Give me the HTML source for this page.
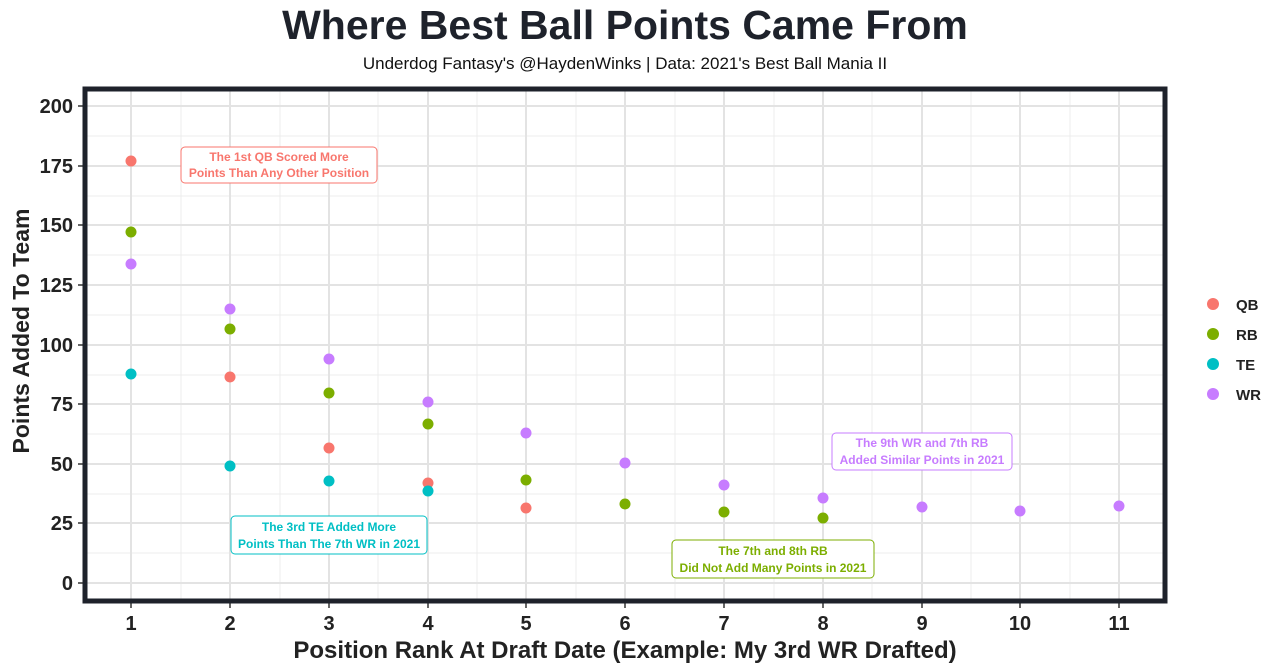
<!DOCTYPE html>
<html><head><meta charset="utf-8"><style>
body{margin:0;background:#fff;}
svg{display:block;font-family:"Liberation Sans",sans-serif;}
</style></head><body>
<svg width="1280" height="672" viewBox="0 0 1280 672">
<rect width="1280" height="672" fill="#fff"/>
<text x="625" y="39" text-anchor="middle" font-size="41" font-weight="bold" fill="#1e222b">Where Best Ball Points Came From</text>
<text x="625" y="69" text-anchor="middle" font-size="17" fill="#111">Underdog Fantasy's @HaydenWinks | Data: 2021's Best Ball Mania II</text>
<g stroke="#ececec" stroke-width="1">
<line x1="85" x2="1165" y1="553" y2="553"/><line x1="85" x2="1165" y1="494" y2="494"/><line x1="85" x2="1165" y1="434" y2="434"/><line x1="85" x2="1165" y1="375" y2="375"/><line x1="85" x2="1165" y1="315" y2="315"/><line x1="85" x2="1165" y1="255" y2="255"/><line x1="85" x2="1165" y1="196" y2="196"/><line x1="85" x2="1165" y1="136" y2="136"/>
<line x1="181" x2="181" y1="89" y2="601"/><line x1="280" x2="280" y1="89" y2="601"/><line x1="378" x2="378" y1="89" y2="601"/><line x1="477" x2="477" y1="89" y2="601"/><line x1="576" x2="576" y1="89" y2="601"/><line x1="675" x2="675" y1="89" y2="601"/><line x1="774" x2="774" y1="89" y2="601"/><line x1="872" x2="872" y1="89" y2="601"/><line x1="971" x2="971" y1="89" y2="601"/><line x1="1070" x2="1070" y1="89" y2="601"/>
</g>
<g stroke="#e3e3e3" stroke-width="2">
<line x1="85" x2="1165" y1="583" y2="583"/><line x1="85" x2="1165" y1="523" y2="523"/><line x1="85" x2="1165" y1="464" y2="464"/><line x1="85" x2="1165" y1="404" y2="404"/><line x1="85" x2="1165" y1="345" y2="345"/><line x1="85" x2="1165" y1="285" y2="285"/><line x1="85" x2="1165" y1="225" y2="225"/><line x1="85" x2="1165" y1="166" y2="166"/><line x1="85" x2="1165" y1="106" y2="106"/>
<line x1="131" x2="131" y1="89" y2="601"/><line x1="230" x2="230" y1="89" y2="601"/><line x1="329" x2="329" y1="89" y2="601"/><line x1="428" x2="428" y1="89" y2="601"/><line x1="526" x2="526" y1="89" y2="601"/><line x1="625" x2="625" y1="89" y2="601"/><line x1="724" x2="724" y1="89" y2="601"/><line x1="823" x2="823" y1="89" y2="601"/><line x1="922" x2="922" y1="89" y2="601"/><line x1="1020" x2="1020" y1="89" y2="601"/><line x1="1119" x2="1119" y1="89" y2="601"/>
</g>
<g stroke="#333" stroke-width="1.5">
<line x1="78" x2="83" y1="583" y2="583"/><line x1="78" x2="83" y1="523" y2="523"/><line x1="78" x2="83" y1="464" y2="464"/><line x1="78" x2="83" y1="404" y2="404"/><line x1="78" x2="83" y1="345" y2="345"/><line x1="78" x2="83" y1="285" y2="285"/><line x1="78" x2="83" y1="225" y2="225"/><line x1="78" x2="83" y1="166" y2="166"/><line x1="78" x2="83" y1="106" y2="106"/>
<line x1="131" x2="131" y1="603" y2="608"/><line x1="230" x2="230" y1="603" y2="608"/><line x1="329" x2="329" y1="603" y2="608"/><line x1="428" x2="428" y1="603" y2="608"/><line x1="526" x2="526" y1="603" y2="608"/><line x1="625" x2="625" y1="603" y2="608"/><line x1="724" x2="724" y1="603" y2="608"/><line x1="823" x2="823" y1="603" y2="608"/><line x1="922" x2="922" y1="603" y2="608"/><line x1="1020" x2="1020" y1="603" y2="608"/><line x1="1119" x2="1119" y1="603" y2="608"/>
</g>
<rect x="85" y="89" width="1080" height="512" fill="none" stroke="#1e222b" stroke-width="5"/>
<g font-size="20" font-weight="bold" fill="#222" text-anchor="end">
<text x="73" y="590">0</text><text x="73" y="530">25</text><text x="73" y="471">50</text><text x="73" y="411">75</text><text x="73" y="352">100</text><text x="73" y="292">125</text><text x="73" y="232">150</text><text x="73" y="173">175</text><text x="73" y="113">200</text>
</g>
<g font-size="20" font-weight="bold" fill="#222" text-anchor="middle">
<text x="131" y="630">1</text><text x="230" y="630">2</text><text x="329" y="630">3</text><text x="428" y="630">4</text><text x="526" y="630">5</text><text x="625" y="630">6</text><text x="724" y="630">7</text><text x="823" y="630">8</text><text x="922" y="630">9</text><text x="1020" y="630">10</text><text x="1119" y="630">11</text>
</g>
<text x="625" y="658" text-anchor="middle" font-size="24" font-weight="bold" fill="#222">Position Rank At Draft Date (Example: My 3rd WR Drafted)</text>
<text transform="translate(29,331) rotate(-90)" text-anchor="middle" font-size="23" font-weight="bold" fill="#222">Points Added To Team</text>
<g fill="#F8766D"><circle cx="131" cy="161" r="5.5"/><circle cx="230" cy="377" r="5.5"/><circle cx="329" cy="448" r="5.5"/><circle cx="428" cy="483" r="5.5"/><circle cx="526" cy="508" r="5.5"/></g>
<g fill="#7CAE00"><circle cx="131" cy="232" r="5.5"/><circle cx="230" cy="329" r="5.5"/><circle cx="329" cy="393" r="5.5"/><circle cx="428" cy="424" r="5.5"/><circle cx="526" cy="480" r="5.5"/><circle cx="625" cy="504" r="5.5"/><circle cx="724" cy="512" r="5.5"/><circle cx="823" cy="518" r="5.5"/></g>
<g fill="#00BFC4"><circle cx="131" cy="374" r="5.5"/><circle cx="230" cy="466" r="5.5"/><circle cx="329" cy="481" r="5.5"/><circle cx="428" cy="491" r="5.5"/></g>
<g fill="#C77CFF"><circle cx="131" cy="264" r="5.5"/><circle cx="230" cy="309" r="5.5"/><circle cx="329" cy="359" r="5.5"/><circle cx="428" cy="402" r="5.5"/><circle cx="526" cy="433" r="5.5"/><circle cx="625" cy="463" r="5.5"/><circle cx="724" cy="485" r="5.5"/><circle cx="823" cy="498" r="5.5"/><circle cx="922" cy="507" r="5.5"/><circle cx="1020" cy="511" r="5.5"/><circle cx="1119" cy="506" r="5.5"/></g>
<g font-size="12" font-weight="bold" text-anchor="middle">
<rect x="181" y="147" width="196" height="36" rx="4" fill="#fff" stroke="#F8766D"/>
<text x="279" y="161" fill="#F8766D">The 1st QB Scored More</text><text x="279" y="177" fill="#F8766D">Points Than Any Other Position</text>
<rect x="231" y="516" width="196" height="38" rx="4" fill="#fff" stroke="#00BFC4"/>
<text x="329" y="531" fill="#00BFC4">The 3rd TE Added More</text><text x="329" y="548" fill="#00BFC4">Points Than The 7th WR in 2021</text>
<rect x="672" y="540" width="202" height="38" rx="4" fill="#fff" stroke="#7CAE00"/>
<text x="773" y="555" fill="#7CAE00">The 7th and 8th RB</text><text x="773" y="572" fill="#7CAE00">Did Not Add Many Points in 2021</text>
<rect x="832" y="433" width="180" height="37" rx="4" fill="#fff" stroke="#C77CFF"/>
<text x="922" y="447" fill="#C77CFF">The 9th WR and 7th RB</text><text x="922" y="464" fill="#C77CFF">Added Similar Points in 2021</text>
</g>
<g font-size="15" font-weight="bold" fill="#222">
<circle cx="1213" cy="304" r="6" fill="#F8766D"/><text x="1236" y="310">QB</text>
<circle cx="1213" cy="334" r="6" fill="#7CAE00"/><text x="1236" y="340">RB</text>
<circle cx="1213" cy="364" r="6" fill="#00BFC4"/><text x="1236" y="370">TE</text>
<circle cx="1213" cy="394" r="6" fill="#C77CFF"/><text x="1236" y="400">WR</text>
</g>
</svg>
</body></html>
